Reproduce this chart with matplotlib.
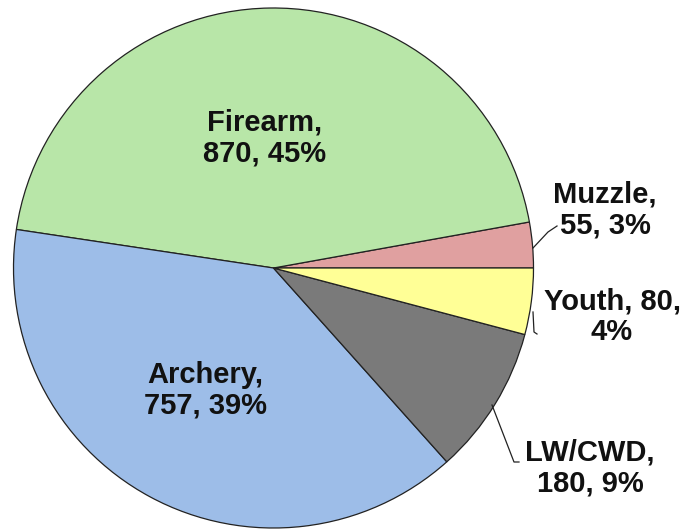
import matplotlib.pyplot as plt

# Data
categories = ['Muzzle', 'Firearm', 'Archery', 'LW/CWD', 'Youth']
counts = [55, 870, 757, 180, 80]
percents = [3, 45, 39, 9, 4]
colors = ['#e0a0a0', '#b8e6a8', '#9dbde8', '#7a7a7a', '#ffff96']

plt.rcParams['font.family'] = ['Liberation Sans', 'DejaVu Sans']

fig = plt.figure(figsize=(6.92, 5.29), dpi=100)
ax = fig.add_axes([0, 0, 1, 1])

cx, cy, r = 273.5, 529 - 268, 260
wedges, _ = ax.pie(counts, colors=colors, startangle=0, counterclock=True,
                   center=(cx, cy), radius=r, frame=True,
                   wedgeprops=dict(edgecolor='#222222', linewidth=0.9))
ax.set_xlim(0, 692)
ax.set_ylim(0, 529)
ax.set_aspect('equal')
ax.axis('off')

labels = [f'{c},\n{n}, {p}%' for c, n, p in zip(categories, counts, percents)]
labels[4] = f'{categories[4]}, {counts[4]},\n{percents[4]}%'

# label positions in pixel coords (x, y from top)
pos = [(605, 210), (265, 138), (205, 390), (590, 468), (612, 317)]
for lab, (x, y) in zip(labels, pos):
    ax.text(x, 529 - y, lab, ha='center', va='center', fontsize=21,
            fontweight='bold', linespacing=1.1, color='#111111')

# leader lines
line_kw = dict(color='#222222', linewidth=0.9)
ax.plot([533, 548, 557], [529 - 248, 529 - 232, 529 - 226], **line_kw)
ax.plot([533, 534, 537], [529 - 312, 529 - 332, 529 - 334], **line_kw)
ax.plot([492, 514, 519], [529 - 405, 529 - 462, 529 - 462], **line_kw)

fig.savefig('out.png', dpi=100, facecolor='white')
